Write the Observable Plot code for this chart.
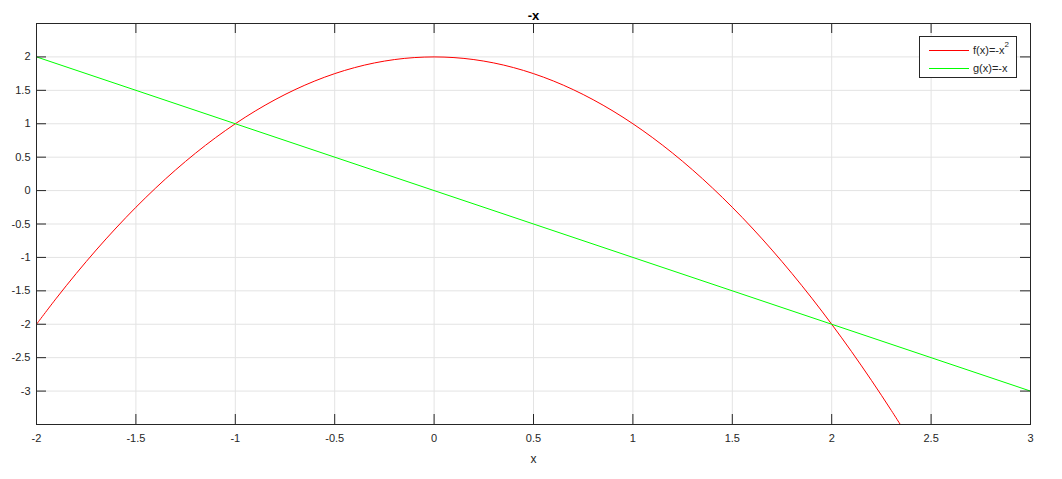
<!DOCTYPE html>
<html>
<head>
<meta charset="utf-8">
<script src="https://cdn.jsdelivr.net/npm/d3@7"></script>
<script src="https://cdn.jsdelivr.net/npm/@observablehq/plot@0.6"></script>
<style>
  body { margin: 0; background: #fff; }
  #wrap { position: relative; width: 1062px; height: 479px; }
  #legend {
    position: absolute; left: 919px; top: 36px; width: 96px; height: 40px;
    border: 1px solid #262626; background: #fff;
    font-family: "Liberation Sans", Arial, sans-serif; font-size: 11px; color: #262626;
  }
  #legend .row { position: absolute; left: 9px; height: 14px; display: flex; align-items: center; }
  #legend .sw { display: inline-block; width: 40px; height: 1px; margin-right: 4px; }
  #legend sup { font-size: 8px; position: relative; top: -5px; vertical-align: baseline; line-height: 0; }
</style>
</head>
<body>
<div id="wrap">
  <div id="chart"></div>
  <div id="legend">
    <div class="row" style="top:6px"><span class="sw" style="background:#ff0000"></span>f(x)=-x<sup>2</sup></div>
    <div class="row" style="top:24px"><span class="sw" style="background:#00ff00"></span>g(x)=-x</div>
  </div>
</div>
<script>
// curva roja
const fX = [-2,-1.9,-1.8,-1.7,-1.6,-1.5,-1.4,-1.3,-1.2,-1.1,-1,-0.9,-0.8,-0.7,-0.6,-0.5,-0.4,-0.3,-0.2,-0.1,
  0,0.1,0.2,0.3,0.4,0.5,0.6,0.7,0.8,0.9,1,1.1,1.2,1.3,1.4,1.5,1.6,1.7,1.8,1.9,2,2.1,2.2,2.3,2.4];
const fY = [-2,-1.61,-1.24,-0.89,-0.56,-0.25,0.04,0.31,0.56,0.79,1,1.19,1.36,1.51,1.64,1.75,1.84,1.91,1.96,1.99,
  2,1.99,1.96,1.91,1.84,1.75,1.64,1.51,1.36,1.19,1,0.79,0.56,0.31,0.04,-0.25,-0.56,-0.89,-1.24,-1.61,-2,-2.41,-2.84,-3.29,-3.76];
// recta verde
const gX = [-2, 3];
const gY = [2, -3];

const xTicks = [-2,-1.5,-1,-0.5,0,0.5,1,1.5,2,2.5,3];
const yTicks = [2,1.5,1,0.5,0,-0.5,-1,-1.5,-2,-2.5,-3];

const fData = fX.map((x, i) => ({x, y: fY[i]}));
const gData = gX.map((x, i) => ({x, y: gY[i]}));

const H = 479, mT = 23, mB = 55, mL = 36, mR = 32;
const plotH = H - mT - mB, plotW = 1062 - mL - mR;
const axisColor = "#262626";

let chart = Plot.plot({
  width: 1062,
  height: H,
  marginTop: mT, marginBottom: mB, marginLeft: mL, marginRight: mR,
  x: {domain: [-2, 3]},
  y: {domain: [-3.5, 2.5]},
  style: {fontFamily: "'Liberation Sans', Arial, sans-serif", fontSize: 11, color: axisColor, background: "#fff"},
  marks: [
    Plot.gridX(xTicks, {stroke: "#e3e3e3", strokeOpacity: 1}),
    Plot.gridY(yTicks, {stroke: "#e3e3e3", strokeOpacity: 1}),
    Plot.line(fData, {x: "x", y: "y", stroke: "#ff0000", strokeWidth: 1, curve: "catmull-rom", clip: true}),
    Plot.line(gData, {x: "x", y: "y", stroke: "#00ff00", strokeWidth: 1, clip: true}),
    // marcas hacia dentro en los cuatro lados
    Plot.tickX(xTicks, {x: d => d, stroke: axisColor, insetTop: plotH - 10}),
    Plot.tickX(xTicks, {x: d => d, stroke: axisColor, insetBottom: plotH - 10}),
    Plot.tickY(yTicks, {y: d => d, stroke: axisColor, insetRight: plotW - 10}),
    Plot.tickY(yTicks, {y: d => d, stroke: axisColor, insetLeft: plotW - 10}),
    Plot.axisX(xTicks, {tickSize: 0, tickPadding: 10, tickFormat: d => String(d), label: null}),
    Plot.axisY(yTicks, {tickSize: 0, tickPadding: 6, tickFormat: d => String(d), label: null}),
    Plot.frame({stroke: axisColor}),
    Plot.text(["-x"], {frameAnchor: "top", dy: -13, fontWeight: "bold", fontSize: 13, fill: "#000"}),
    Plot.text(["x"], {frameAnchor: "bottom", dy: 38, fontSize: 12, fill: axisColor})
  ]
});
d3.select("#chart").append(() => chart);
</script>
</body>
</html>
